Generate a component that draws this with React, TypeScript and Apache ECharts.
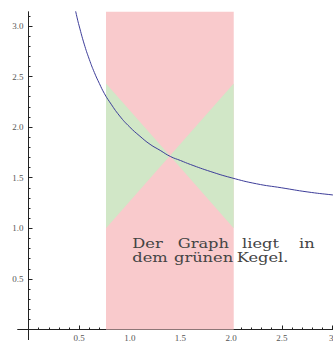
import React, { useEffect, useRef } from "react";
import * as echarts from "echarts";

// Graph of the function
const curveX = [0.46, 0.48, 0.5, 0.55, 0.6, 0.65, 0.7, 0.75, 0.8, 0.9, 1.0, 1.1, 1.2, 1.3, 1.4, 1.5, 1.6, 1.8, 2.0, 2.25, 2.5, 2.75, 3.0, 3.1];
const curveY = [3.17, 3.08, 3.0, 2.82, 2.67, 2.54, 2.43, 2.33, 2.25, 2.11, 2.0, 1.91, 1.83, 1.77, 1.71, 1.67, 1.63, 1.56, 1.5, 1.44, 1.4, 1.36, 1.33, 1.32];

// Red delta band (x from / to, y from / to)
const bandX = [0.765, 2.026];
const bandY = [0, 3.14];

// Green cone: centre point and y range at band edges
const coneCenter = [1.396, 1.716];
const coneY = [1.0, 2.43];

// Axis ticks
const xMajorTicks = [0.5, 1.0, 1.5, 2.0, 2.5, 3.0];
const xTickLabels = ["0.5", "1.0", "1.5", "2.0", "2.5", "3."];
const yMajorTicks = [0.5, 1.0, 1.5, 2.0, 2.5, 3.0];
const yTickLabels = ["0.5", "1.0", "1.5", "2.0", "2.5", "3.0"];

// Caption words
const textLine1 = ["Der", "Graph", "liegt", "in"];
const textLine2 = ["dem", "grünen", "Kegel."];

const X_MIN = -0.107;
const X_MAX = 3.1;
const Y_MIN = -0.1;
const Y_MAX = 3.14;
const TICK_MAX = 3.1;

const AXIS_COLOR = "#222";
const LABEL_COLOR = "#555";
const RED = "#f9cacc";
const GREEN = "#d1e7c7";
const CURVE = "#3d3d99";

const W = 345;
const H = 342;
// pixel positions of the data range in the chart div
const PX_X0 = 28.5; // x = 0
const PX_PER_X = 101.3;
const PX_Y0 = 329.5; // y = 0
const PX_PER_Y = 101.2;

export default function App() {
  const ref = useRef<HTMLDivElement>(null);

  useEffect(() => {
    if (!ref.current) return;
    const chart = echarts.init(ref.current, undefined, { renderer: "svg" });

    const labelFont = { fontFamily: "Liberation Serif", fontSize: 9, color: LABEL_COLOR };
    const tickStyle = { color: AXIS_COLOR, width: 1 };

    const gridA = {
      left: PX_X0 + X_MIN * PX_PER_X,
      right: W - (PX_X0 + X_MAX * PX_PER_X),
      top: PX_Y0 - Y_MAX * PX_PER_Y,
      bottom: H - (PX_Y0 - Y_MIN * PX_PER_Y),
      containLabel: false,
      outerBoundsMode: "none",
    };
    const gridB = {
      left: PX_X0,
      right: W - (PX_X0 + X_MAX * PX_PER_X),
      top: PX_Y0 - TICK_MAX * PX_PER_Y,
      bottom: H - PX_Y0,
      containLabel: false,
      outerBoundsMode: "none",
    };

    const fmt = (ticks: number[], labels: string[]) => (v: number) => {
      const i = ticks.findIndex((t) => Math.abs(t - v) < 1e-6);
      return i >= 0 ? labels[i] : "";
    };

    const xAxes = [
      // main axis (line through y = 0)
      {
        type: "value", gridIndex: 0, min: X_MIN, max: X_MAX,
        axisLine: { show: true, onZero: true, lineStyle: tickStyle },
        axisTick: { show: false }, axisLabel: { show: false }, splitLine: { show: false },
      },
      // minor ticks
      {
        type: "value", gridIndex: 1, min: 0, max: X_MAX, interval: 0.1, position: "bottom",
        axisLine: { show: false, onZero: false },
        axisTick: { show: true, inside: true, length: 2, lineStyle: tickStyle },
        axisLabel: { show: false },
        splitLine: { show: false },
      },
      // major ticks + labels
      {
        type: "value", gridIndex: 1, min: 0, max: X_MAX, interval: 0.5, position: "bottom",
        axisLine: { show: false, onZero: false },
        axisTick: { show: true, inside: true, length: 4, lineStyle: tickStyle },
        axisLabel: { show: true, margin: 4, showMaxLabel: false, formatter: fmt(xMajorTicks, xTickLabels), ...labelFont },
        splitLine: { show: false },
      },
    ];
    const yAxes = [
      {
        type: "value", gridIndex: 0, min: Y_MIN, max: Y_MAX,
        axisLine: { show: true, onZero: true, lineStyle: tickStyle },
        axisTick: { show: false }, axisLabel: { show: false }, splitLine: { show: false },
      },
      {
        type: "value", gridIndex: 1, min: 0, max: TICK_MAX, interval: 0.1, position: "left",
        axisLine: { show: false, onZero: false },
        axisTick: { show: true, inside: true, length: 2, lineStyle: tickStyle },
        axisLabel: { show: false },
        splitLine: { show: false },
      },
      {
        type: "value", gridIndex: 1, min: 0, max: TICK_MAX, interval: 0.5, position: "left",
        axisLine: { show: false, onZero: false },
        axisTick: { show: true, inside: true, length: 4, lineStyle: tickStyle },
        axisLabel: { show: true, margin: 5, showMaxLabel: false, formatter: fmt(yMajorTicks, yTickLabels), ...labelFont },
        splitLine: { show: false },
      },
    ];

    const bandData = [[bandX[0], bandY[0], bandX[1], bandY[1]]];
    const coneData = [
      [bandX[0], coneY[1], coneCenter[0], coneCenter[1], bandX[0], coneY[0]],
      [bandX[1], coneY[1], coneCenter[0], coneCenter[1], bandX[1], coneY[0]],
    ];

    const textFont = { fontFamily: "DejaVu Serif", fontSize: 13, fill: "#444" };
    const line1X = [132.3, 177.7, 242, 299];
    const line2X = [132.3, 174, 236.7];
    const graphics: any[] = [];
    textLine1.forEach((w, i) =>
      graphics.push({ type: "text", x: line1X[i], y: 243, scaleX: 1.25, style: { text: w, verticalAlign: "middle", ...textFont }, z: 100 })
    );
    textLine2.forEach((w, i) =>
      graphics.push({ type: "text", x: line2X[i], y: 257.5, scaleX: 1.25, style: { text: w, verticalAlign: "middle", ...textFont }, z: 100 })
    );

    chart.setOption({
      animation: false,
      backgroundColor: "#fff",
      grid: [gridA, gridB],
      xAxis: xAxes,
      yAxis: yAxes,
      series: [
        {
          type: "custom",
          xAxisIndex: 0,
          yAxisIndex: 0,
          z: 1,
          data: bandData,
          renderItem: (_p: any, api: any) => {
            const a = api.coord([api.value(0), api.value(1)]);
            const b = api.coord([api.value(2), api.value(3)]);
            return {
              type: "rect",
              shape: { x: a[0], y: b[1], width: b[0] - a[0], height: a[1] - b[1] },
              style: { fill: RED },
            };
          },
        },
        {
          type: "custom",
          xAxisIndex: 0,
          yAxisIndex: 0,
          z: 2,
          data: coneData,
          renderItem: (_p: any, api: any) => {
            const pts = [0, 2, 4].map((k) => api.coord([api.value(k), api.value(k + 1)]));
            return { type: "polygon", shape: { points: pts }, style: { fill: GREEN } };
          },
        },
        {
          type: "line",
          xAxisIndex: 0,
          yAxisIndex: 0,
          z: 3,
          smooth: true,
          showSymbol: false,
          clip: true,
          data: curveX.map((x, i) => [x, curveY[i]]),
          lineStyle: { color: CURVE, width: 1 },
        },
      ],
      graphic: graphics,
    });

    return () => chart.dispose();
  }, []);

  return (
    <div style={{ position: "absolute", left: 0, top: 0, width: 333, height: 342, overflow: "hidden", background: "#fff" }}>
      <div ref={ref} style={{ width: W, height: H }} />
    </div>
  );
}
